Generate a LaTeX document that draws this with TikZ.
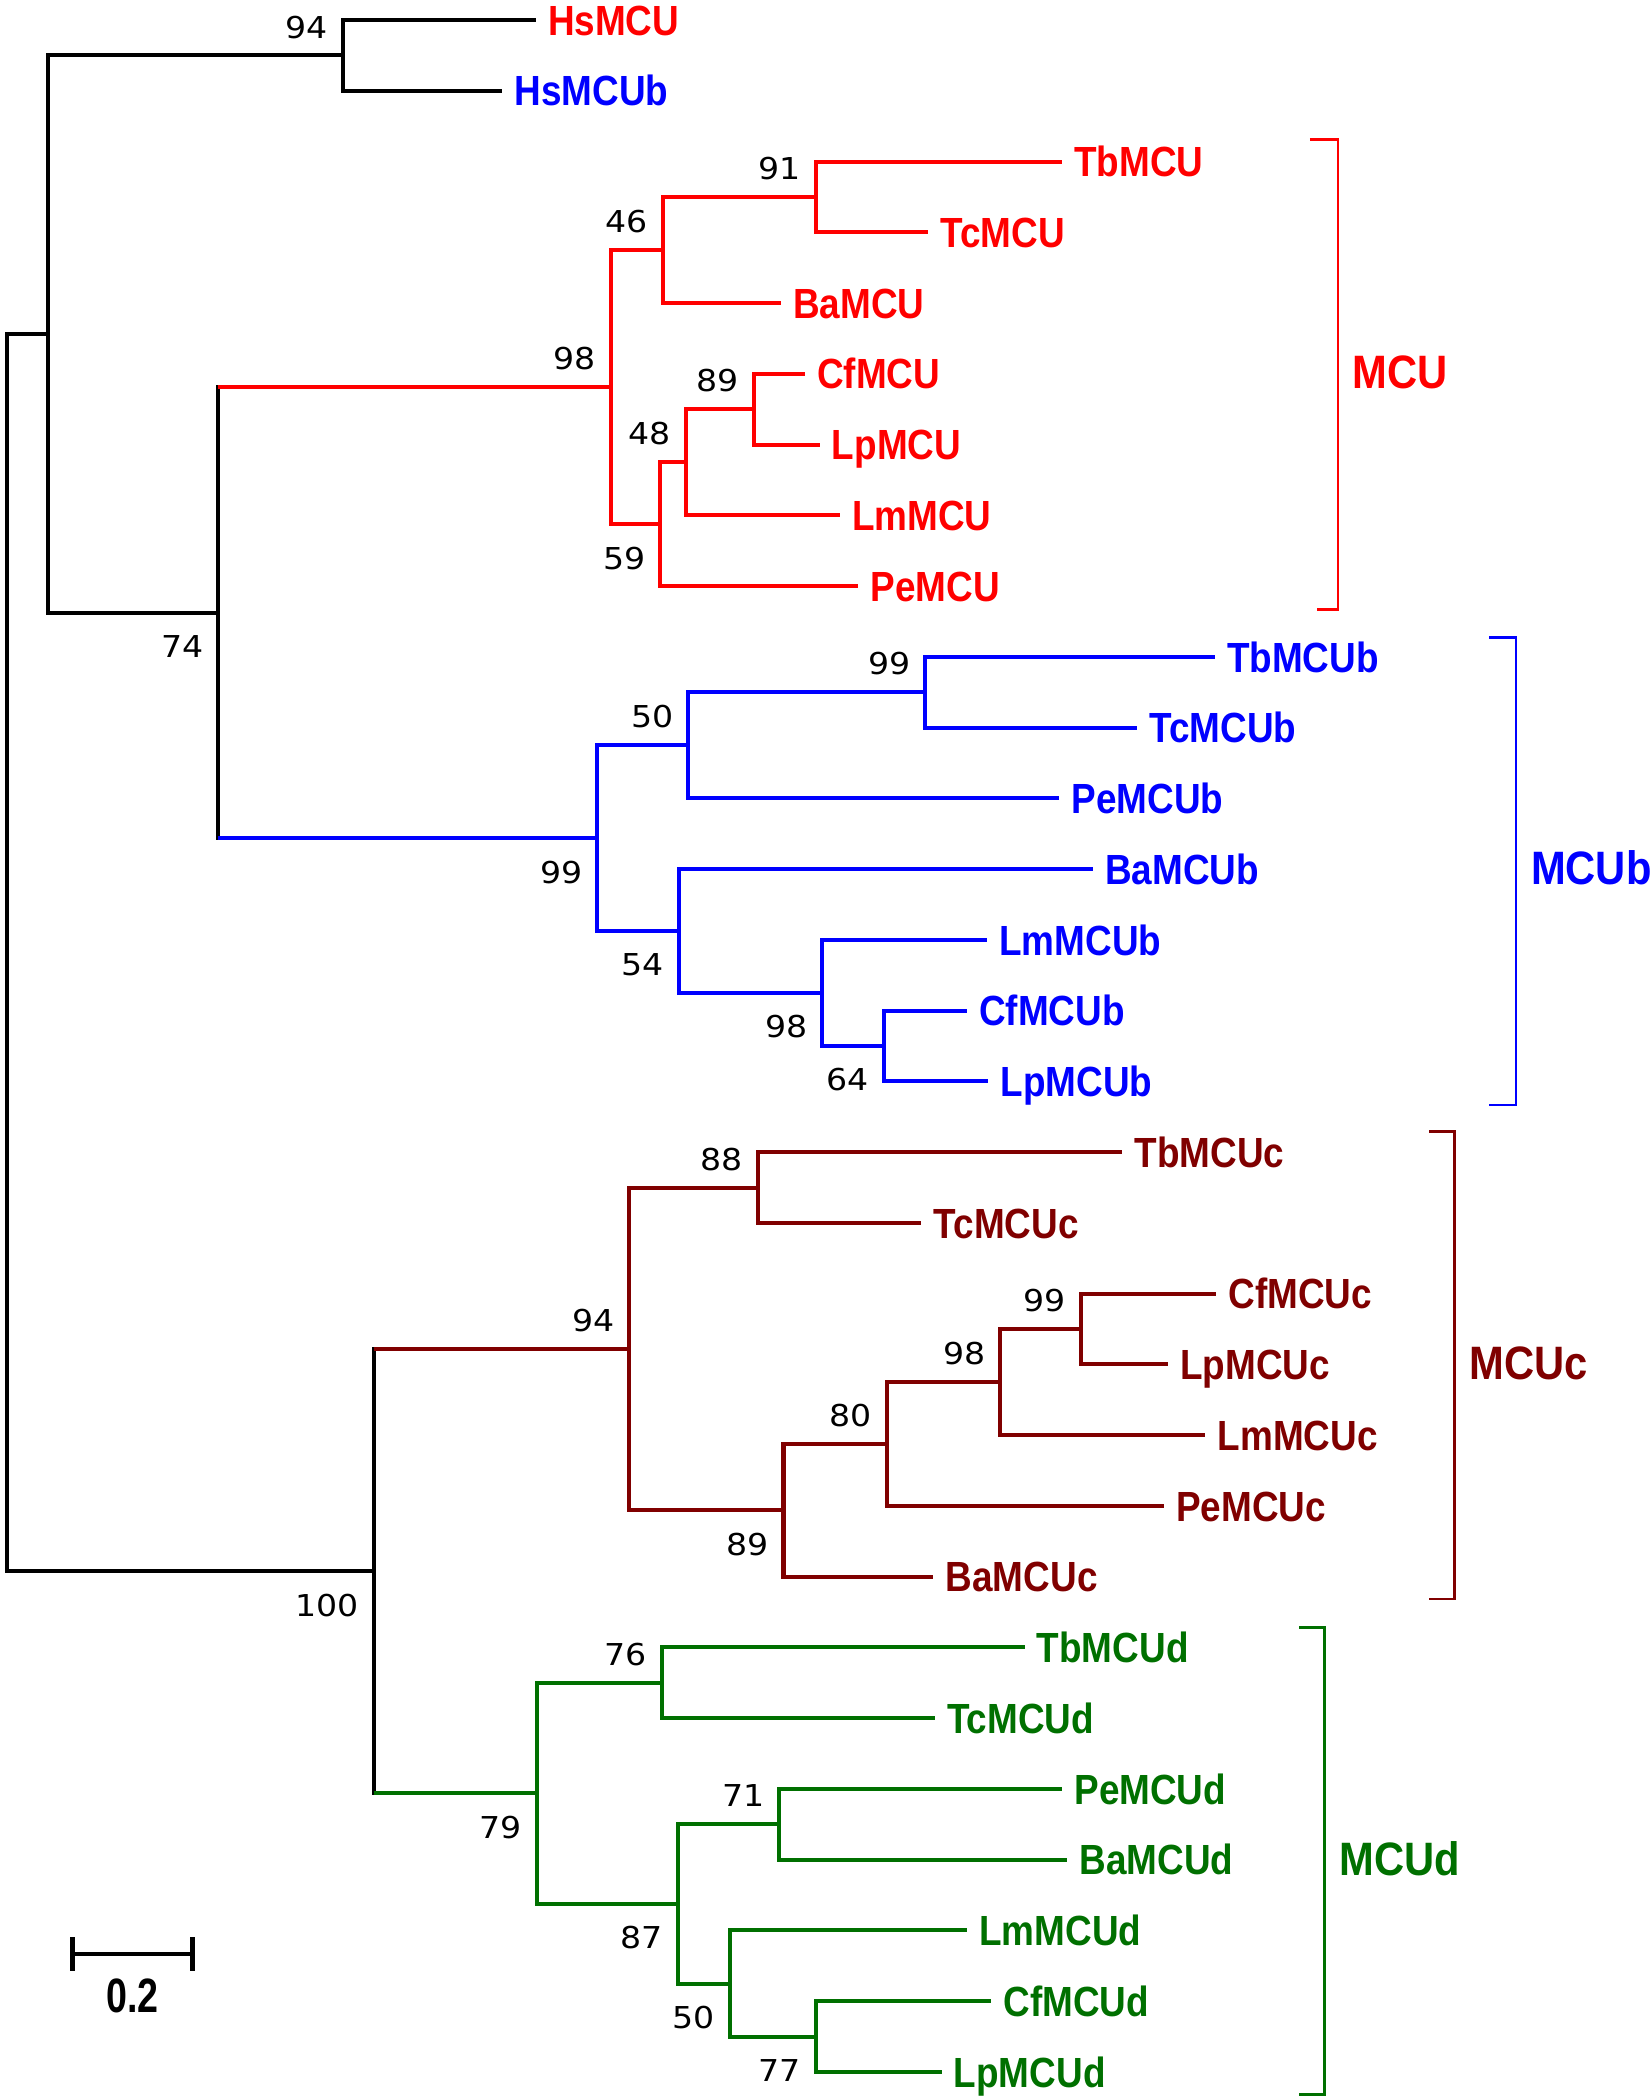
\documentclass[tikz,border=0pt]{standalone}
\usepackage{fontspec}
\newfontfamily\leaffont{Liberation Sans}[FakeStretch=0.875]
\newfontfamily\cladefont{Liberation Sans}[FakeStretch=0.89]
\newfontfamily\barfont{Liberation Sans}[FakeStretch=0.78]
\newfontfamily\bsfont{DejaVu Sans}[FakeStretch=1.1]
\definecolor{mcured}{RGB}{255,0,0}
\definecolor{mcublue}{RGB}{0,0,255}
\definecolor{mcucdark}{RGB}{128,0,0}
\definecolor{mcudgreen}{RGB}{0,112,0}
\tikzset{
  br/.style={line width=3pt},
  vb/.style={line width=3pt, line cap=rect},
  leaf/.style={anchor=base west, inner sep=0pt, xshift=9pt, yshift=-11.3pt,
    font=\leaffont\fontsize{31.5}{32}\selectfont\bfseries},
  bsa/.style={anchor=base east, inner sep=0pt, xshift=-11pt, yshift=13pt,
    font=\bsfont\fontsize{22.5}{23}\selectfont},
  bsb/.style={anchor=base east, inner sep=0pt, xshift=-11pt, yshift=-33.5pt,
    font=\bsfont\fontsize{22.5}{23}\selectfont},
  clade/.style={anchor=west, inner sep=0pt,
    font=\cladefont\fontsize{35}{36}\selectfont\bfseries},
  bracket/.style={line width=2pt},
}
\begin{document}
\begin{tikzpicture}[x=1pt,y=-1pt]
\useasboundingbox (0,0) rectangle (1233,1568);
% ---------- internal nodes ----------
\coordinate (root) at (5,711.3);
\coordinate (A) at (36,249.4);
\coordinate (nHs) at (256,41.4);
\coordinate (n74) at (163,457.4);
\coordinate (n98) at (456,289.0);
\coordinate (n46) at (495,186.7);
\coordinate (n91) at (609,147.1);
\coordinate (n59) at (493,391.4);
\coordinate (n48) at (512,345.2);
\coordinate (n89) at (563,305.6);
\coordinate (n99) at (446,625.9);
\coordinate (n50) at (514,556.5);
\coordinate (n99b) at (691,516.9);
\coordinate (n54) at (507,695.2);
\coordinate (n98b) at (614,741.4);
\coordinate (n64) at (660,781.0);
\coordinate (n100) at (279,1173.1);
\coordinate (n94) at (470,1007.2);
\coordinate (n88) at (566,886.7);
\coordinate (n89c) at (585,1127.7);
\coordinate (n80) at (662,1078.2);
\coordinate (n98c) at (747,1032.0);
\coordinate (n99c) at (807,992.4);
\coordinate (n79) at (401,1339.1);
\coordinate (n76) at (494,1256.5);
\coordinate (n87) at (506,1421.6);
\coordinate (n71) at (582,1362.2);
\coordinate (n50d) at (545,1481.1);
\coordinate (n77) at (609,1520.7);
% ---------- leaf ends ----------
\coordinate (lHsMCU) at (400,15);
\coordinate (lHsMCUb) at (375,67.83);
\coordinate (lTbMCU) at (793,120.66);
\coordinate (lTcMCU) at (693,173.49);
\coordinate (lBaMCU) at (583,226.32);
\coordinate (lCfMCU) at (601,279.15);
\coordinate (lLpMCU) at (612,331.98);
\coordinate (lLmMCU) at (627,384.81);
\coordinate (lPeMCU) at (641,437.64);
\coordinate (lTbMCUb) at (907,490.47);
\coordinate (lTcMCUb) at (849,543.30);
\coordinate (lPeMCUb) at (791,596.13);
\coordinate (lBaMCUb) at (816,648.96);
\coordinate (lLmMCUb) at (737,701.79);
\coordinate (lCfMCUb) at (722,754.62);
\coordinate (lLpMCUb) at (738,807.45);
\coordinate (lTbMCUc) at (838,860.28);
\coordinate (lTcMCUc) at (688,913.11);
\coordinate (lCfMCUc) at (908,965.94);
\coordinate (lLpMCUc) at (872,1018.77);
\coordinate (lLmMCUc) at (900,1071.60);
\coordinate (lPeMCUc) at (869,1124.43);
\coordinate (lBaMCUc) at (697,1177.26);
\coordinate (lTbMCUd) at (765,1230.09);
\coordinate (lTcMCUd) at (698,1282.92);
\coordinate (lPeMCUd) at (793,1335.75);
\coordinate (lBaMCUd) at (797,1388.58);
\coordinate (lLmMCUd) at (722,1441.41);
\coordinate (lCfMCUd) at (740,1494.24);
\coordinate (lLpMCUd) at (703,1547.07);
% ---------- black backbone ----------
\draw[vb,black] (root |- A) -- (root |- n100);
\draw[br,black] (root |- A) -- (A);
\draw[br,black] (root |- n100) -- (n100);
\draw[vb,black] (A |- nHs) -- (A |- n74);
\draw[br,black] (A |- nHs) -- (nHs);
\draw[br,black] (A |- n74) -- (n74);
\draw[vb,black] (nHs |- lHsMCU) -- (nHs |- lHsMCUb);
\draw[br,black] (nHs |- lHsMCU) -- (lHsMCU);
\draw[br,black] (nHs |- lHsMCUb) -- (lHsMCUb);
\draw[vb,black] (n74 |- n98) -- (n74 |- n99);
\draw[vb,black] (n100 |- n94) -- (n100 |- n79);
% ---------- MCU (red) ----------
\begin{scope}[mcured]
\draw[br] (n74 |- n98) -- (n98);
\draw[vb] (n98 |- n46) -- (n98 |- n59);
\draw[br] (n98 |- n46) -- (n46);
\draw[br] (n98 |- n59) -- (n59);
\draw[vb] (n46 |- n91) -- (n46 |- lBaMCU);
\draw[br] (n46 |- n91) -- (n91);
\draw[br] (n46 |- lBaMCU) -- (lBaMCU);
\draw[vb] (n91 |- lTbMCU) -- (n91 |- lTcMCU);
\draw[br] (n91 |- lTbMCU) -- (lTbMCU);
\draw[br] (n91 |- lTcMCU) -- (lTcMCU);
\draw[vb] (n59 |- n48) -- (n59 |- lPeMCU);
\draw[br] (n59 |- n48) -- (n48);
\draw[br] (n59 |- lPeMCU) -- (lPeMCU);
\draw[vb] (n48 |- n89) -- (n48 |- lLmMCU);
\draw[br] (n48 |- n89) -- (n89);
\draw[br] (n48 |- lLmMCU) -- (lLmMCU);
\draw[vb] (n89 |- lCfMCU) -- (n89 |- lLpMCU);
\draw[br] (n89 |- lCfMCU) -- (lCfMCU);
\draw[br] (n89 |- lLpMCU) -- (lLpMCU);
\end{scope}
% ---------- MCUb (blue) ----------
\begin{scope}[mcublue]
\draw[br] (n74 |- n99) -- (n99);
\draw[vb] (n99 |- n50) -- (n99 |- n54);
\draw[br] (n99 |- n50) -- (n50);
\draw[br] (n99 |- n54) -- (n54);
\draw[vb] (n50 |- n99b) -- (n50 |- lPeMCUb);
\draw[br] (n50 |- n99b) -- (n99b);
\draw[br] (n50 |- lPeMCUb) -- (lPeMCUb);
\draw[vb] (n99b |- lTbMCUb) -- (n99b |- lTcMCUb);
\draw[br] (n99b |- lTbMCUb) -- (lTbMCUb);
\draw[br] (n99b |- lTcMCUb) -- (lTcMCUb);
\draw[vb] (n54 |- lBaMCUb) -- (n54 |- n98b);
\draw[br] (n54 |- lBaMCUb) -- (lBaMCUb);
\draw[br] (n54 |- n98b) -- (n98b);
\draw[vb] (n98b |- lLmMCUb) -- (n98b |- n64);
\draw[br] (n98b |- lLmMCUb) -- (lLmMCUb);
\draw[br] (n98b |- n64) -- (n64);
\draw[vb] (n64 |- lCfMCUb) -- (n64 |- lLpMCUb);
\draw[br] (n64 |- lCfMCUb) -- (lCfMCUb);
\draw[br] (n64 |- lLpMCUb) -- (lLpMCUb);
\end{scope}
% ---------- MCUc (dark red) ----------
\begin{scope}[mcucdark]
\draw[br] (n100 |- n94) -- (n94);
\draw[vb] (n94 |- n88) -- (n94 |- n89c);
\draw[br] (n94 |- n88) -- (n88);
\draw[br] (n94 |- n89c) -- (n89c);
\draw[vb] (n88 |- lTbMCUc) -- (n88 |- lTcMCUc);
\draw[br] (n88 |- lTbMCUc) -- (lTbMCUc);
\draw[br] (n88 |- lTcMCUc) -- (lTcMCUc);
\draw[vb] (n89c |- n80) -- (n89c |- lBaMCUc);
\draw[br] (n89c |- n80) -- (n80);
\draw[br] (n89c |- lBaMCUc) -- (lBaMCUc);
\draw[vb] (n80 |- n98c) -- (n80 |- lPeMCUc);
\draw[br] (n80 |- n98c) -- (n98c);
\draw[br] (n80 |- lPeMCUc) -- (lPeMCUc);
\draw[vb] (n98c |- n99c) -- (n98c |- lLmMCUc);
\draw[br] (n98c |- n99c) -- (n99c);
\draw[br] (n98c |- lLmMCUc) -- (lLmMCUc);
\draw[vb] (n99c |- lCfMCUc) -- (n99c |- lLpMCUc);
\draw[br] (n99c |- lCfMCUc) -- (lCfMCUc);
\draw[br] (n99c |- lLpMCUc) -- (lLpMCUc);
\end{scope}
% ---------- MCUd (green) ----------
\begin{scope}[mcudgreen]
\draw[br] (n100 |- n79) -- (n79);
\draw[vb] (n79 |- n76) -- (n79 |- n87);
\draw[br] (n79 |- n76) -- (n76);
\draw[br] (n79 |- n87) -- (n87);
\draw[vb] (n76 |- lTbMCUd) -- (n76 |- lTcMCUd);
\draw[br] (n76 |- lTbMCUd) -- (lTbMCUd);
\draw[br] (n76 |- lTcMCUd) -- (lTcMCUd);
\draw[vb] (n87 |- n71) -- (n87 |- n50d);
\draw[br] (n87 |- n71) -- (n71);
\draw[br] (n87 |- n50d) -- (n50d);
\draw[vb] (n71 |- lPeMCUd) -- (n71 |- lBaMCUd);
\draw[br] (n71 |- lPeMCUd) -- (lPeMCUd);
\draw[br] (n71 |- lBaMCUd) -- (lBaMCUd);
\draw[vb] (n50d |- lLmMCUd) -- (n50d |- n77);
\draw[br] (n50d |- lLmMCUd) -- (lLmMCUd);
\draw[br] (n50d |- n77) -- (n77);
\draw[vb] (n77 |- lCfMCUd) -- (n77 |- lLpMCUd);
\draw[br] (n77 |- lCfMCUd) -- (lCfMCUd);
\draw[br] (n77 |- lLpMCUd) -- (lLpMCUd);
\end{scope}
% ---------- leaf labels ----------
\node[leaf,text=mcured] (tHsMCU) at (lHsMCU) {HsMCU};
\node[leaf,text=mcublue] (tHsMCUb) at (lHsMCUb) {HsMCUb};
\foreach \n in {TbMCU,TcMCU,BaMCU,CfMCU,LpMCU,LmMCU,PeMCU}
  \node[leaf,text=mcured] (t\n) at (l\n) {\n};
\foreach \n in {TbMCUb,TcMCUb,PeMCUb,BaMCUb,LmMCUb,CfMCUb,LpMCUb}
  \node[leaf,text=mcublue] (t\n) at (l\n) {\n};
\foreach \n in {TbMCUc,TcMCUc,CfMCUc,LpMCUc,LmMCUc,PeMCUc,BaMCUc}
  \node[leaf,text=mcucdark] (t\n) at (l\n) {\n};
\foreach \n in {TbMCUd,TcMCUd,PeMCUd,BaMCUd,LmMCUd,CfMCUd,LpMCUd}
  \node[leaf,text=mcudgreen] (t\n) at (l\n) {\n};
% ---------- bootstrap values ----------
\node[bsa] (bHs) at (nHs) {94};
\node[bsb] (b74) at (n74) {74};
\node[bsa] (b98) at (n98) {98};
\node[bsa] (b46) at (n46) {46};
\node[bsa] (b91) at (n91) {91};
\node[bsb] (b59) at (n59) {59};
\node[bsa] (b48) at (n48) {48};
\node[bsa] (b89) at (n89) {89};
\node[bsb] (b99) at (n99) {99};
\node[bsa] (b50) at (n50) {50};
\node[bsa] (b99b) at (n99b) {99};
\node[bsb] (b54) at (n54) {54};
\node[bsb] (b98b) at (n98b) {98};
\node[bsb] (b64) at (n64) {64};
\node[bsb] (b100) at (n100) {100};
\node[bsa] (b94) at (n94) {94};
\node[bsa] (b88) at (n88) {88};
\node[bsb] (b89c) at (n89c) {89};
\node[bsa] (b80) at (n80) {80};
\node[bsa] (b98c) at (n98c) {98};
\node[bsa] (b99c) at (n99c) {99};
\node[bsb] (b79) at (n79) {79};
\node[bsa] (b76) at (n76) {76};
\node[bsb] (b87) at (n87) {87};
\node[bsa] (b71) at (n71) {71};
\node[bsb] (b50d) at (n50d) {50};
\node[bsb] (b77) at (n77) {77};
% ---------- clade brackets ----------
\coordinate (kMCUt) at (999,104);  \coordinate (kMCUb) at (999,455);
\draw[bracket,mcured] (978,104) -- (kMCUt) -- (kMCUb) -- (983,455);
\node[clade,text=mcured] (cMCU) at (1010,278) {MCU};
\coordinate (kMCUbt) at (1132,476); \coordinate (kMCUbb) at (1132,825);
\draw[bracket,mcublue] (1112,476) -- (kMCUbt) -- (kMCUbb) -- (1112,825);
\node[clade,text=mcublue] (cMCUb) at (1143,648) {MCUb};
\coordinate (kMCUct) at (1086,845); \coordinate (kMCUcb) at (1086,1194);
\draw[bracket,mcucdark] (1067,845) -- (kMCUct) -- (kMCUcb) -- (1067,1194);
\node[clade,text=mcucdark] (cMCUc) at (1097,1018) {MCUc};
\coordinate (kMCUdt) at (989,1215); \coordinate (kMCUdb) at (989,1564);
\draw[bracket,mcudgreen] (970,1215) -- (kMCUdt) -- (kMCUdb) -- (970,1564);
\node[clade,text=mcudgreen] (cMCUd) at (1000,1388) {MCUd};
% ---------- scale bar ----------
\coordinate (sL) at (54,1459); \coordinate (sR) at (144,1459);
\draw[line width=3.2pt] (sL) -- (sR);
\draw[line width=3.6pt] ([yshift=12.5pt]sL) -- ([yshift=-12.5pt]sL);
\draw[line width=3.6pt] ([yshift=12.5pt]sR) -- ([yshift=-12.5pt]sR);
\node[anchor=base, inner sep=0pt, font=\barfont\fontsize{36}{37}\selectfont\bfseries] (sText) at (99,1503) {0.2};
\end{tikzpicture}
\end{document}
